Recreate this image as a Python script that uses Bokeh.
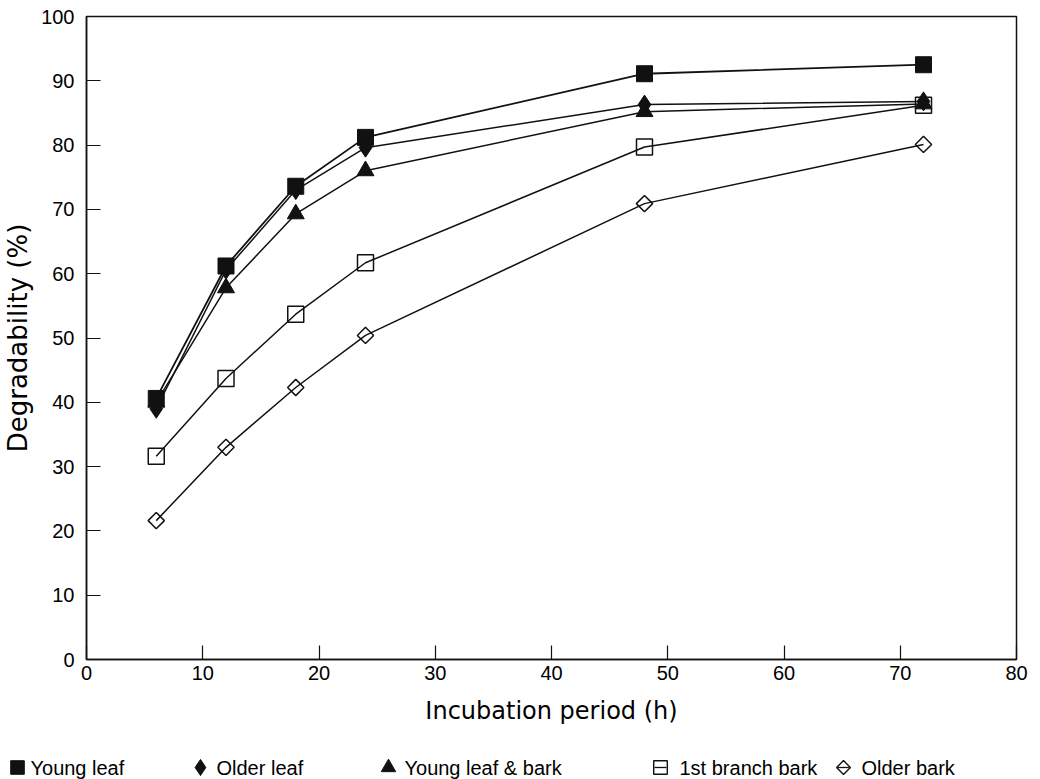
import math
from bokeh.plotting import figure
from bokeh.models import Range1d, FixedTicker
from bokeh.core.properties import value
from bokeh.embed import file_html
from bokeh.resources import INLINE

# ---- data ----
hours = [6, 12, 18, 24, 48, 72]
young_leaf = [40.6, 61.2, 73.6, 81.2, 91.1, 92.5]
older_leaf = [39.0, 60.6, 73.0, 79.6, 86.3, 86.8]
young_leaf_bark = [40.0, 57.8, 69.3, 76.0, 85.2, 86.4]
first_branch_bark = [31.6, 43.7, 53.7, 61.7, 79.7, 86.2]
older_bark = [21.6, 33.0, 42.3, 50.4, 70.9, 80.1]

series_names = ["Young leaf", "Older leaf", "Young leaf & bark", "1st branch bark", "Older bark"]
x_ticks = [0, 10, 20, 30, 40, 50, 60, 70, 80]
y_ticks = [0, 10, 20, 30, 40, 50, 60, 70, 80, 90, 100]

FONT = "Liberation Sans"
INK = "#111111"
LW = 1.5

p = figure(width=1030, height=735, output_backend="svg", toolbar_location=None,
           x_range=Range1d(0, 80), y_range=Range1d(0, 100),
           min_border_left=78, min_border_right=14, min_border_top=16, min_border_bottom=76)
p.grid.visible = False
p.outline_line_color = INK
p.outline_line_width = 1.5

for ax in (p.xaxis[0], p.yaxis[0]):
    ax.axis_line_color = INK
    ax.axis_line_width = 1.5
    ax.major_tick_in = 14
    ax.major_tick_out = 0
    ax.major_tick_line_color = INK
    ax.major_tick_line_width = 1.2
    ax.minor_tick_line_color = None
    ax.major_label_text_font = FONT
    ax.major_label_text_font_size = "20px"
    ax.major_label_text_color = "black"
    ax.axis_label_text_font = "DejaVu Sans"
    ax.axis_label_text_font_style = "normal"
    ax.axis_label_text_color = "black"

p.xaxis.ticker = FixedTicker(ticks=x_ticks)
p.yaxis.ticker = FixedTicker(ticks=y_ticks)
p.xaxis.major_label_standoff = 6
p.yaxis.major_label_standoff = 12
p.xaxis.axis_label = "Incubation period (h)"
p.yaxis.axis_label = "Degradability (%)"
p.xaxis.axis_label_text_font_size = "24px"
p.yaxis.axis_label_text_font_size = "26px"
p.xaxis.axis_label_standoff = 14
p.yaxis.axis_label_standoff = 5

# marker style per series: (marker, size, filled, angle, line width of connecting line)
styles = [
    ("square", 16, True, 0.0, LW + 0.3),          # Young leaf
    ("diamond", 19, True, 0.0, LW),               # Older leaf
    ("triangle", 17, True, 0.0, LW),              # Young leaf & bark
    ("square", 16, False, 0.0, LW),               # 1st branch bark
    ("square", 11.5, False, math.pi / 4, LW),     # Older bark
]
data = [young_leaf, older_leaf, young_leaf_bark, first_branch_bark, older_bark]

# draw from bottom series to top series
for ys, (mk, sz, filled, ang, lw) in reversed(list(zip(data, styles))):
    p.line(hours, ys, line_color=INK, line_width=lw)
    p.scatter(hours, ys, marker=mk, size=sz, angle=ang,
              fill_color=INK if filled else None, line_color=INK,
              line_width=1.0 if filled else 1.5)

# ---- legend strip: a second root placed under the chart ----
LEG_H = 44
leg = figure(width=1030, height=LEG_H, output_backend="svg", toolbar_location=None,
             x_range=Range1d(0, 1030), y_range=Range1d(0, LEG_H),
             x_axis_location=None, y_axis_location=None,
             min_border_left=0, min_border_right=0, min_border_top=0, min_border_bottom=0)
leg.grid.visible = False
leg.outline_line_color = None

key_x = [17, 200, 388, 660, 843]       # key centres in the strip (pixels)
label_x = [30, 216, 404, 679, 861]     # label starts in the strip (pixels)
key_y = 12
legend_scale = 0.85
for name, (mk, sz, filled, ang, lw), kx, tx in zip(series_names, styles, key_x, label_x):
    if not filled:
        leg.line([kx - 6, kx + 6], [key_y, key_y], line_color=INK, line_width=1.3)
    leg.scatter([kx], [key_y], marker=mk, size=sz * legend_scale, angle=ang,
                fill_color=INK if filled else None, line_color=INK,
                line_width=1.0 if filled else 1.4)
    leg.text([tx], [key_y], text=[name], text_font=value(FONT),
             text_font_size="20px", text_color="black",
             text_baseline="middle", text_align="left")

open("out.html", "w").write(file_html([p, leg], INLINE))
